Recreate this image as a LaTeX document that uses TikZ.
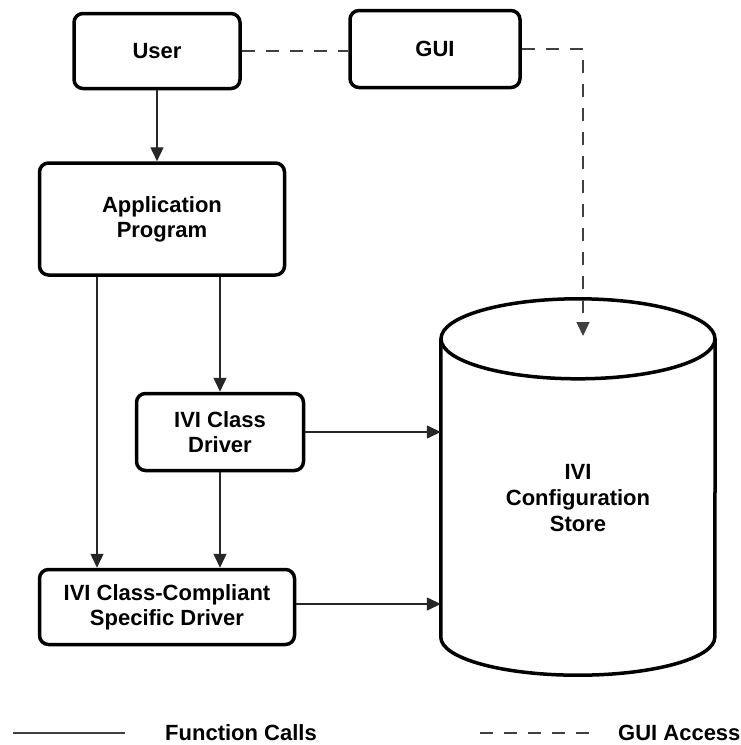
\documentclass[tikz,border=0pt]{standalone}
\usepackage{fontspec}
\setmainfont{Liberation Sans}
\usetikzlibrary{arrows.meta, calc}

\begin{document}
\begin{tikzpicture}
[x=1pt, y=-1pt,
 box/.style={draw, line width=3.5pt, rounded corners=9pt, align=center,
   inner sep=0pt, font=\bfseries\fontsize{22}{25}\selectfont},
 call/.style={draw=black!85, line width=1.4pt, -{Triangle[length=14pt, width=13pt]}},
 access/.style={draw=black!75, line width=1.4pt, dash pattern=on 13pt off 11pt},
 legendtext/.style={anchor=west, inner sep=0pt, font=\bfseries\fontsize{22}{25}\selectfont}]
\useasboundingbox (0, 0) rectangle (740, 745);

\node [box, minimum width=166pt, minimum height=75pt] (user) at (157, 51) {User};
\node [box, minimum width=170pt, minimum height=77pt] (gui) at (435, 49) {GUI};
\node [box, minimum width=245pt, minimum height=112pt] (app) at (162, 219) {Application\\Program};
\node [box, minimum width=167pt, minimum height=77pt] (icd) at (220, 432) {IVI Class\\Driver};
\node [box, minimum width=255pt, minimum height=75pt] (cc) at (167, 607) {IVI Class-Compliant\\Specific Driver};

% configuration store
\node [minimum width=274pt, minimum height=298pt, inner sep=0pt] (store) at (578, 488) {};
\draw [line width=3.5pt] (store.north west) -- (store.south west)
  arc [start angle=180, end angle=360, x radius=137pt, y radius=38pt] -- (store.north east);
\draw [line width=3.5pt] (store.north) ellipse [x radius=137pt, y radius=40pt];
\node [align=center, font=\bfseries\fontsize{22}{26}\selectfont] (storelbl)
  at ([yshift=-10pt]store.center) {IVI\\Configuration\\Store};

\draw [call] (user.south) -- (user.south |- app.north);
\draw [call] (app.south -| icd.north) -- (icd.north);
\draw [call] ([xshift=-65pt]app.south) -- ([xshift=-65pt]app.south |- cc.north);
\draw [call] (icd.south) -- (icd.south |- cc.north);
\draw [call] (icd.east) -- (icd.east -| store.west);
\draw [call] ([yshift=3pt]cc.east) -- ([yshift=3pt]cc.east -| store.west);

\coordinate (gtip) at (583, 336);
\draw [access] (user.east) -- (user.east -| gui.west);
\draw [access, -{Triangle[length=14pt, width=13pt]}] (gui.east) -| (gtip);

% legend
\coordinate (fcA) at (13, 733);
\coordinate (fcB) at (125, 733);
\coordinate (gaA) at (480, 733);
\coordinate (gaB) at (592, 733);
\draw [draw=black!75, line width=1.4pt] (fcA) -- (fcB);
\node [legendtext] (fclbl) at (165, 733) {Function Calls};
\draw [access] (gaA) -- (gaB);
\node [legendtext] (galbl) at (618, 733) {GUI Access};
\end{tikzpicture}
\end{document}
